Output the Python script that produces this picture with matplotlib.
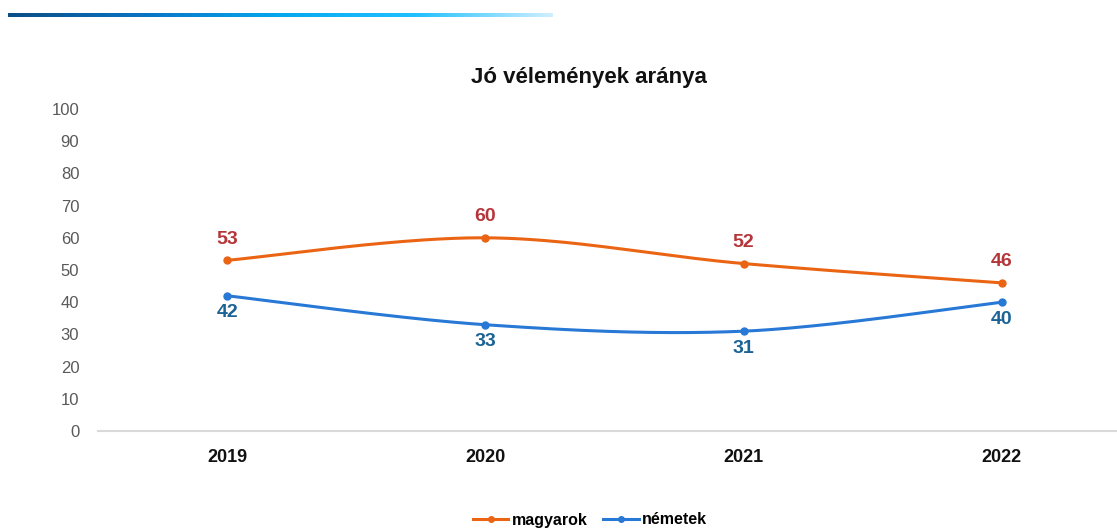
import numpy as np
import matplotlib
matplotlib.use("Agg")
import matplotlib.pyplot as plt
from matplotlib.lines import Line2D

plt.rcParams['font.family'] = ['Liberation Sans', 'DejaVu Sans']

years = ['2019', '2020', '2021', '2022']
magyarok = [53, 60, 52, 46]
nemetek = [42, 33, 31, 40]
yticks = list(range(0, 101, 10))

ORANGE = '#EA6414'
BLUE = '#2878D6'
ORANGE_LBL = '#B5363A'
BLUE_LBL = '#1C6395'


def smooth(xs, ys, n=60):
    # Catmull-Rom style smoothing, like office charts do
    xs = np.asarray(xs, float)
    ys = np.asarray(ys, float)
    px = np.concatenate([[xs[0]], xs, [xs[-1]]])
    py = np.concatenate([[ys[0]], ys, [ys[-1]]])
    outx, outy = [], []
    t = np.linspace(0, 1, n)
    for i in range(1, len(px) - 2):
        p0, p1, p2, p3 = (np.array([px[j], py[j]]) for j in range(i - 1, i + 3))
        c1 = p1 + (p2 - p0) / 6
        c2 = p2 - (p3 - p1) / 6
        b = ((1 - t) ** 3)[:, None] * p1 + (3 * (1 - t) ** 2 * t)[:, None] * c1 \
            + (3 * (1 - t) * t ** 2)[:, None] * c2 + (t ** 3)[:, None] * p2
        outx.extend(b[:, 0])
        outy.extend(b[:, 1])
    return outx, outy


fig = plt.figure(figsize=(11.17, 5.31), dpi=100)
ax = fig.add_axes([98 / 1117, 1 - 431 / 531, 1033 / 1117, 322 / 531])

x = np.arange(len(years))
for vals, col, lcol, off, va in [(magyarok, ORANGE, ORANGE_LBL, 9, 'bottom'),
                                 (nemetek, BLUE, BLUE_LBL, -6, 'top')]:
    sx, sy = smooth(x, vals)
    ax.plot(sx, sy, color=col, lw=2.2, solid_capstyle='round', zorder=3)
    ax.plot(x, vals, 'o', color=col, ms=5, zorder=4)
    for xi, v in zip(x, vals):
        ax.annotate(str(v), (xi, v), xytext=(0, off), textcoords='offset points',
                    ha='center', va=va, fontsize=14, fontweight='bold', color=lcol)

ax.set_xlim(-0.5, 3.5)
ax.set_ylim(0, 100)
ax.set_yticks(yticks)
ax.set_xticks(x)
ax.set_xticklabels(years, fontsize=13, fontweight='bold', color='#111111')
ax.tick_params(axis='y', length=0, labelsize=12, labelcolor='#595959', pad=13.5)
ax.tick_params(axis='x', length=0, pad=13)
for s in ['top', 'right', 'left']:
    ax.spines[s].set_visible(False)
ax.spines['bottom'].set_color('#D9D9D9')
ax.spines['bottom'].set_linewidth(1.5)

fig.text(589 / 1117, 1 - 77 / 531, 'Jó vélemények aránya', ha='center', va='center',
         fontsize=16, fontweight='bold', color='#111111')

# gradient bar on top
grad = np.linspace(0, 1, 256)
cmap = matplotlib.colors.LinearSegmentedColormap.from_list(
    'g', ['#0B4E86', '#0A74C4', '#06A8EE', '#22C0FF', '#CFEFFF'])
gax = fig.add_axes([8 / 1117, 1 - 17 / 531, 545 / 1117, 4 / 531])
gax.imshow(grad[None, :], aspect='auto', cmap=cmap)
gax.axis('off')

handles = [Line2D([], [], color=ORANGE, lw=2.2, marker='o', ms=4),
           Line2D([], [], color=BLUE, lw=2.2, marker='o', ms=4)]
fig.legend(handles, ['magyarok', 'németek'], loc='center', ncol=2,
           bbox_to_anchor=(590 / 1117, 1 - 520 / 531), frameon=False,
           prop={'size': 11.5, 'weight': 'bold'}, handlelength=2.2,
           handletextpad=0.2, columnspacing=1.0)

fig.savefig('out.png', dpi=100)
